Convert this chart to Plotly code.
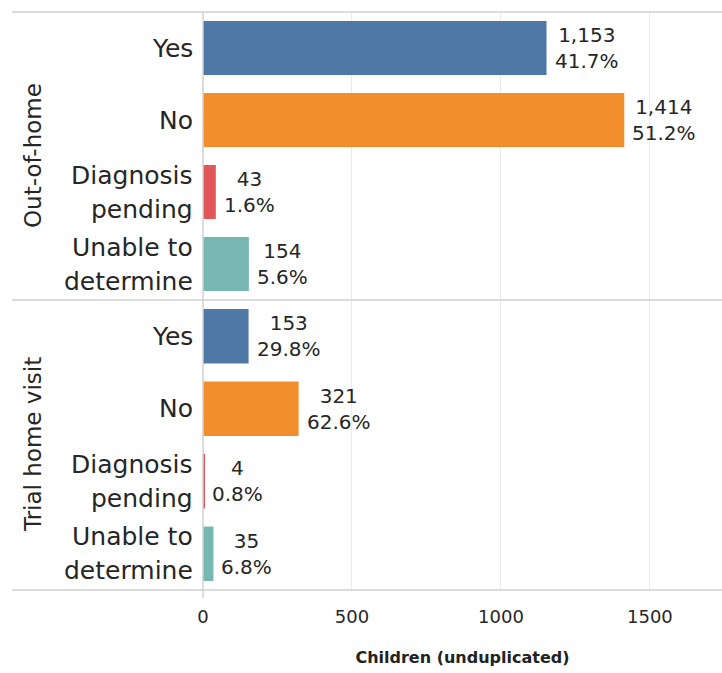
import plotly.graph_objects as go

# ---- data ----
groups = ["Out-of-home", "Trial home visit"]
categories = ["Yes", "No", "Diagnosis pending", "Unable to determine"]
row_label_lines = [["Yes"], ["No"], ["Diagnosis", "pending"], ["Unable to", "determine"]]
out_of_home_counts = [1153, 1414, 43, 154]
out_of_home_pct = [41.7, 51.2, 1.6, 5.6]
trial_home_counts = [153, 321, 4, 35]
trial_home_pct = [29.8, 62.6, 0.8, 6.8]
colors = ["#4e79a7", "#f28e2b", "#e15759", "#76b7b2"]
x_ticks = [0, 500, 1000, 1500]
x_title = "Children (unduplicated)"

W, H = 722, 673
ML, MR, MT, MB = 203, 0, 12, 83
plot_w = W - ML - MR
plot_h = H - MT - MB
split = 290 / plot_h  # bottom panel height fraction

FONT = "DejaVu Sans"
TXT = "#262626"
LINE = "#d0d0d0"

fig = go.Figure()

panels = [
    (groups[0], out_of_home_counts, out_of_home_pct, "y", [split, 1.0]),
    (groups[1], trial_home_counts, trial_home_pct, "y2", [0.0, split]),
]

annotations = []
for name, counts, pcts, yref, dom in panels:
    fig.add_trace(go.Bar(
        x=counts, y=categories, orientation="h",
        marker=dict(color=colors, line=dict(width=0)),
        width=0.75, yaxis=yref, xaxis="x",
        hoverinfo="x+y", showlegend=False,
    ))
    # value labels
    for c, p, cat in zip(counts, pcts, categories):
        annotations.append(dict(
            x=c, y=cat, xref="x", yref=yref,
            text=f"{c:,}<br>{p:.1f}%", showarrow=False,
            xanchor="left", yanchor="middle", xshift=6, align="center",
            font=dict(family=FONT, size=20, color=TXT),
        ))
    # row labels
    for cat, lines in zip(categories, row_label_lines):
        n = len(lines)
        for i, ln in enumerate(lines):
            shift = 0 if n == 1 else (17 if i == 0 else -17)
            annotations.append(dict(
                x=0, y=cat, xref="paper", yref=yref,
                text=ln, showarrow=False, xanchor="right", yanchor="middle",
                xshift=-8, yshift=shift,
                font=dict(family=FONT, size=25, color=TXT),
            ))
    # panel title
    annotations.append(dict(
        x=0, y=(dom[0] + dom[1]) / 2, xref="paper", yref="paper",
        text=name, showarrow=False, textangle=-90,
        xanchor="center", yanchor="middle", xshift=-(ML - 33),
        font=dict(family=FONT, size=23, color=TXT),
    ))

left_px = 12
x_left = -(ML - left_px) / plot_w
shapes = []
for yy in [0.0, split, 1.0]:
    shapes.append(dict(type="line", xref="paper", yref="paper",
                       x0=x_left, x1=1.0, y0=yy, y1=yy,
                       line=dict(color=LINE, width=1.5)))
shapes.append(dict(type="line", xref="paper", yref="paper",
                   x0=0, x1=0, y0=-8 / plot_h, y1=1.0,
                   line=dict(color=LINE, width=1.5)))

fig.update_layout(
    width=W, height=H,
    margin=dict(l=ML, r=MR, t=MT, b=MB),
    paper_bgcolor="white", plot_bgcolor="white",
    xaxis=dict(
        range=[0, 1742], tickvals=x_ticks, ticktext=[str(t) for t in x_ticks],
        showgrid=True, gridcolor="#ebebeb", gridwidth=1, zeroline=False,
        showline=False, ticks="", ticklabelstandoff=14,
        tickfont=dict(family=FONT, size=18, color=TXT),
        title=dict(text=x_title, standoff=25,
                   font=dict(family=FONT, size=16, color="#222222", weight="bold")),
        anchor="y2", fixedrange=True,
    ),
    yaxis=dict(domain=[split, 1.0], type="category", categoryarray=categories,
               range=[3.5, -0.5], showticklabels=False, showgrid=False,
               zeroline=False, ticks="", fixedrange=True),
    yaxis2=dict(domain=[0.0, split], type="category", categoryarray=categories,
                range=[3.5, -0.5], showticklabels=False, showgrid=False,
                zeroline=False, ticks="", anchor="x", fixedrange=True),
    annotations=annotations,
    shapes=shapes,
    bargap=0.25,
)

fig.write_html(
    "out.html",
    config={"displayModeBar": False},
    post_script="document.body.style.margin='0';document.body.style.padding='0';",
)
